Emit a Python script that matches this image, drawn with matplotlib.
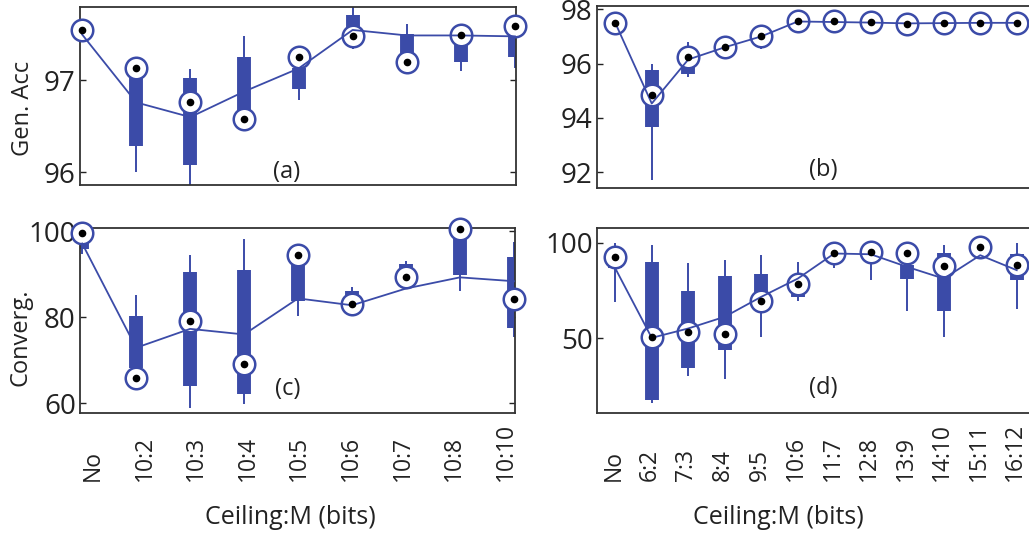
import numpy as np
import matplotlib
matplotlib.use('Agg')
import matplotlib.pyplot as plt
import matplotlib.transforms as mtransforms

plt.rcParams['font.family'] = ['Open Sans', 'DejaVu Sans']

# ---- data ----
labels_a = ['No', '10:2', '10:3', '10:4', '10:5', '10:6', '10:7', '10:8', '10:10']
labels_b = ['No', '6:2', '7:3', '8:4', '9:5', '10:6', '11:7', '12:8', '13:9', '14:10', '15:11', '16:12']

# (a) generalisation accuracy, ceiling 10
med_a = [97.55, 97.13, 96.76, 96.58, 97.25, 97.48, 97.20, 97.50, 97.59]
mean_a = [97.50, 96.76, 96.60, 96.88, 97.13, 97.55, 97.49, 97.49, 97.48]
q1_a = [97.55, 96.29, 96.08, 96.67, 96.91, 97.54, 97.29, 97.20, 97.26]
q3_a = [97.55, 97.04, 97.03, 97.25, 97.14, 97.71, 97.51, 97.45, 97.50]
lo_a = [97.55, 96.00, 95.80, 96.67, 96.79, 97.34, 97.29, 97.10, 97.14]
hi_a = [97.55, 97.04, 97.12, 97.48, 97.14, 97.85, 97.62, 97.45, 97.50]

# (b) generalisation accuracy, varying ceiling
med_b = [97.51, 94.84, 96.25, 96.61, 97.02, 97.56, 97.55, 97.52, 97.47, 97.50, 97.50, 97.51]
mean_b = [97.50, 94.53, 96.15, 96.60, 97.00, 97.55, 97.53, 97.51, 97.48, 97.49, 97.50, 97.50]
q1_b = [97.51, 93.67, 95.61, 96.55, 96.95, 97.50, 97.50, 97.48, 97.45, 97.48, 97.48, 97.49]
q3_b = [97.51, 95.78, 96.06, 96.65, 97.05, 97.58, 97.57, 97.55, 97.50, 97.52, 97.52, 97.53]
lo_b = [97.51, 91.71, 95.49, 96.50, 96.52, 97.48, 97.48, 97.46, 97.42, 97.46, 97.46, 97.47]
hi_b = [97.51, 95.97, 96.80, 97.00, 97.08, 97.60, 97.60, 97.58, 97.52, 97.54, 97.54, 97.55]

# (c) convergence, ceiling 10
med_c = [99.6, 65.9, 79.1, 69.0, 94.4, 83.2, 89.3, 100.6, 84.3]
mean_c = [97.2, 72.9, 77.3, 76.0, 84.4, 82.8, 86.7, 89.3, 88.4]
q1_c = [95.8, 68.2, 64.1, 62.1, 83.7, 83.0, 89.6, 89.8, 77.5]
q3_c = [99.0, 80.4, 90.5, 91.1, 92.5, 86.1, 92.3, 99.0, 94.0]
lo_c = [94.8, 68.2, 58.9, 59.9, 80.2, 83.0, 89.6, 86.2, 75.3]
hi_c = [99.6, 85.1, 94.5, 98.3, 92.5, 87.1, 93.2, 99.0, 97.5]

# (d) convergence, varying ceiling
med_d = [92.5, 50.8, 53.4, 52.1, 69.4, 78.6, 94.6, 95.1, 94.6, 87.8, 97.7, 88.2]
mean_d = [86.6, 50.3, 55.2, 61.3, 71.7, 81.2, 94.3, 93.9, 87.3, 81.2, 93.4, 85.6]
q1_d = [86.5, 17.9, 34.4, 43.9, 72.5, 71.4, 90.0, 90.0, 80.9, 64.4, 95.0, 80.4]
q3_d = [88.0, 89.9, 74.8, 82.6, 83.8, 76.0, 92.0, 95.0, 88.2, 94.6, 99.0, 93.9]
lo_d = [69.1, 16.1, 30.4, 28.8, 50.8, 69.6, 86.5, 80.7, 64.2, 50.8, 95.0, 65.1]
hi_d = [100.0, 98.6, 89.1, 90.8, 93.7, 89.9, 94.6, 95.1, 94.6, 98.6, 99.0, 100.0]

BLUE = '#3b4ba8'
INK = '#222222'
W, H = 1029, 535

fig = plt.figure(figsize=(W / 100, H / 100), dpi=100)


def box(left, top, right, bottom):
    return [left / W, (H - bottom) / H, (right - left) / W, (bottom - top) / H]


def panel(rect, labels, med, mean, q1, q3, lo, hi, xlim, ylim, yticks, label_x):
    ax = fig.add_axes(rect)
    x = np.arange(1, len(labels) + 1)
    ax.vlines(x, lo, hi, color=BLUE, lw=1.4, zorder=2)
    ax.vlines(x, q1, q3, color=BLUE, lw=10, zorder=2)
    ax.plot(x, med, 'o', ms=15.5, mfc='white', mec=BLUE, mew=1.8, clip_on=False, zorder=3)
    ax.plot(x, mean, '-', color=BLUE, lw=1.3, zorder=4)
    ax.plot(x, med, 'o', ms=4.5, color='black', clip_on=False, zorder=5)
    ax.set_xlim(*xlim)
    ax.set_ylim(*ylim)
    ax.set_yticks(yticks)
    ax.set_xticks([])
    ax.tick_params(axis='y', direction='in', length=4, width=1, right=True,
                   labelsize=20, colors=INK, pad=3)
    for s in ax.spines.values():
        s.set_color('#333333')
        s.set_linewidth(1.3)
    # rotated category labels, anchored at their start
    trans = mtransforms.blended_transform_factory(ax.transData, fig.transFigure)
    for lx, lab in zip(label_x, labels):
        ax.text(lx, (H - 481) / H, lab, rotation=90, ha='center', va='bottom',
                fontsize=16.5, color=INK, transform=trans, clip_on=False)
    return ax


ax_a = panel(box(80, 7, 516, 185), labels_a, med_a, mean_a, q1_a, q3_a, lo_a, hi_a,
             (0.96, 9.02), (95.86, 97.8), [96, 97], [])
ax_b = panel(box(597, 6, 1035, 188), labels_b, med_b, mean_b, q1_b, q3_b, lo_b, hi_b,
             (0.5, 12.5), (91.42, 98.12), [92, 94, 96, 98], [])
ax_c = panel(box(80, 228, 515, 413), labels_a, med_c, mean_c, q1_c, q3_c, lo_c, hi_c,
             (0.96, 9.02), (57.7, 100.8), [60, 80, 100], np.linspace(1.2, 8.85, 9))
ax_d = panel(box(597, 228, 1035, 413), labels_b, med_d, mean_d, q1_d, q3_d, lo_d, hi_d,
             (0.5, 12.5), (11.1, 107.6), [50, 100], np.arange(1, 13) - 0.05)


def ftext(px, py, s, size=16.5, **kw):
    fig.text(px / W, (H - py) / H, s, ha='center', va='center', fontsize=size,
             color=INK, **kw)


ftext(23, 108, 'Gen. Acc', size=17, rotation=90)
ftext(21, 337, 'Converg.', size=17, rotation=90)
ftext(290, 517, 'Ceiling:M (bits)', size=18)
ftext(778, 517, 'Ceiling:M (bits)', size=18)
ftext(287, 172, '(a)', size=17)
ftext(823, 170, '(b)', size=17)
ftext(288, 389, '(c)', size=17)
ftext(823, 388, '(d)', size=17)

fig.savefig('out.png', dpi=100)
